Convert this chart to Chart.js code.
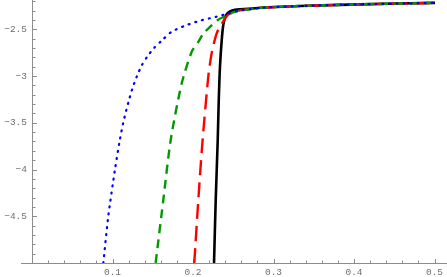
<!DOCTYPE html>
<html>
<head>
<meta charset="utf-8">
<script src="https://cdn.jsdelivr.net/npm/chart.js@4"></script>
<style>
  html, body { margin: 0; padding: 0; background: #fff; }
  #wrap { width: 447px; height: 277px; }
</style>
</head>
<body>
<div id="wrap"><canvas id="plot" width="447" height="277"></canvas></div>
<script>
// curves (x, y pairs)
var blueX  = [0.0886, 0.0948, 0.1031, 0.1091, 0.1138, 0.1199, 0.1248, 0.1304, 0.1366, 0.1429, 0.1516, 0.1611, 0.1735, 0.1901, 0.2087, 0.2294, 0.2435, 0.2584, 0.2894, 0.3329, 0.4075, 0.5006];
var blueY  = [-5.0, -4.497, -3.998, -3.684, -3.481, -3.275, -3.131, -3.000, -2.882, -2.796, -2.700, -2.622, -2.526, -2.462, -2.408, -2.365, -2.331, -2.300, -2.267, -2.251, -2.233, -2.217];

var greenX = [0.1536, 0.1631, 0.1723, 0.1860, 0.1984, 0.2070, 0.2128, 0.2211, 0.2300, 0.2398, 0.2522, 0.2646, 0.2894, 0.3329, 0.4075, 0.5006];
var greenY = [-5.0, -4.326, -3.684, -3.078, -2.740, -2.630, -2.545, -2.475, -2.405, -2.358, -2.312, -2.292, -2.267, -2.251, -2.233, -2.217];

var redX   = [0.2016, 0.2066, 0.2116, 0.2190, 0.2232, 0.2294, 0.2357, 0.2410, 0.2460, 0.2584, 0.2894, 0.3329, 0.4075, 0.5006];
var redY   = [-5.0, -4.326, -3.720, -3.006, -2.756, -2.543, -2.442, -2.368, -2.330, -2.298, -2.267, -2.251, -2.233, -2.217];

var blackX = [0.2261, 0.2282, 0.2307, 0.2320, 0.2335, 0.2357, 0.2376, 0.2398, 0.2422, 0.2460, 0.2522, 0.2584, 0.2894, 0.3329, 0.4075, 0.5006];
var blackY = [-5.0, -4.33, -3.684, -3.256, -2.899, -2.613, -2.454, -2.378, -2.335, -2.308, -2.292, -2.286, -2.267, -2.251, -2.233, -2.217];

var xTicks = [0.1, 0.2, 0.3, 0.4, 0.5];
var xTickLabels = ['0.1', '0.2', '0.3', '0.4', '0.5'];
var yTicks = [-2.5, -3, -3.5, -4, -4.5];
var yTickLabels = ['\u22122.5', '\u22123', '\u22123.5', '\u22124', '\u22124.5'];

function pts(xs, ys) {
    return xs.map(function (x, i) { return { x: x, y: ys[i] }; });
}

// Mathematica-like axes: lines through the origin, ticks pointing inward
var axesPlugin = {
    id: 'mmaAxes',
    beforeDatasetsDraw: function (chart) {
        var ctx = chart.ctx;
        var xs = chart.scales.x, ys = chart.scales.y;
        var area = chart.chartArea;
        var ax = xs.getPixelForValue(0);
        var ay = ys.getPixelForValue(-5);

        ctx.save();
        ctx.strokeStyle = '#8c8c8c';
        ctx.lineWidth = 1;
        ctx.beginPath();
        ctx.moveTo(area.left, ay + 0.5);
        ctx.lineTo(area.right, ay + 0.5);
        ctx.moveTo(ax + 0.5, area.top);
        ctx.lineTo(ax + 0.5, ay);
        ctx.stroke();

        // minor + major ticks
        ctx.beginPath();
        for (var i = 1; i <= 25; i++) {
            var v = i * 0.02;
            var px = Math.round(xs.getPixelForValue(v)) + 0.5;
            if (px > area.right) break;
            var len = (i % 5 === 0) ? 4 : 2.5;
            ctx.moveTo(px, ay);
            ctx.lineTo(px, ay - len);
        }
        for (var j = 1; j <= 28; j++) {
            var w = -5 + j * 0.1;
            var py = Math.round(ys.getPixelForValue(w)) + 0.5;
            if (py < area.top) break;
            var len2 = (j % 5 === 0) ? 4 : 2.5;
            ctx.moveTo(ax + 1, py);
            ctx.lineTo(ax + 1 + len2, py);
        }
        ctx.stroke();

        ctx.fillStyle = '#6e6e6e';
        ctx.font = '9.5px "Liberation Mono", "DejaVu Sans Mono", monospace';
        ctx.textAlign = 'center';
        ctx.textBaseline = 'top';
        xTicks.forEach(function (t, k) {
            ctx.fillText(xTickLabels[k], xs.getPixelForValue(t), ay + 5);
        });
        ctx.textAlign = 'right';
        ctx.textBaseline = 'middle';
        yTicks.forEach(function (t, k) {
            ctx.fillText(yTickLabels[k], ax - 5, ys.getPixelForValue(t));
        });
        ctx.restore();
    }
};

new Chart(document.getElementById('plot'), {
    type: 'line',
    data: {
        datasets: [
            { data: pts(blueX, blueY), borderColor: '#0000ff', borderWidth: 2.2, borderDash: [1, 6], borderCapStyle: 'round' },
            { data: pts(greenX, greenY), borderColor: '#009a00', borderWidth: 2.4, borderDash: [9, 6] },
            { data: pts(redX, redY), borderColor: '#ff0000', borderWidth: 2.4, borderDash: [15, 7] },
            { data: pts(blackX, blackY), borderColor: '#000000', borderWidth: 2.6 }
        ]
    },
    options: {
        responsive: false,
        animation: false,
        devicePixelRatio: 1,
        layout: { padding: { left: 21, right: 0, top: 0, bottom: 14 } },
        elements: {
            point: { radius: 0 },
            line: { tension: 0.25, fill: false }
        },
        plugins: { legend: { display: false }, tooltip: { enabled: false } },
        scales: {
            x: { type: 'linear', min: -0.01366, max: 0.5155, display: false },
            y: { type: 'linear', min: -5, max: -2.1866, display: false }
        }
    },
    plugins: [axesPlugin]
});
</script>
</body>
</html>
